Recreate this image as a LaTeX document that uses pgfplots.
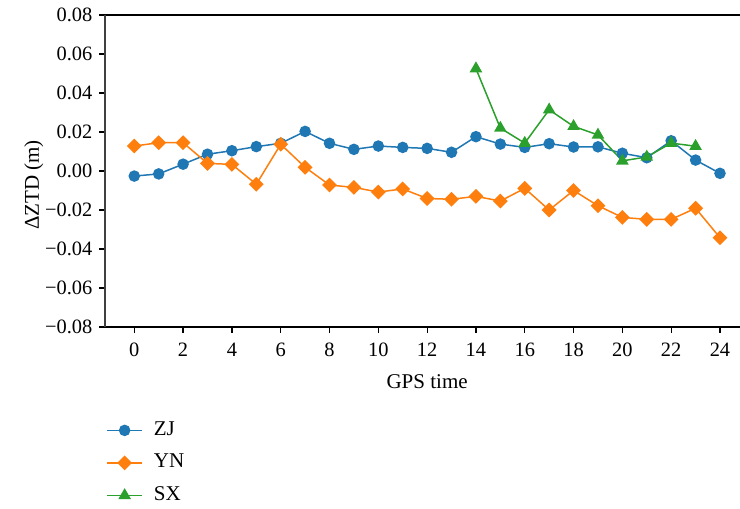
\documentclass[border=0pt]{standalone}
\usepackage{fontspec}
\setmainfont{Liberation Serif}
\usepackage{pgfplots}
\pgfplotsset{compat=1.18}
\definecolor{cZJ}{HTML}{1F77B4}
\definecolor{cYN}{HTML}{FF7F0E}
\definecolor{cSX}{HTML}{2CA02C}
\begin{document}
\begin{tikzpicture}
\begin{axis}[
  scale only axis, width=317.5pt, height=156pt,
  xmin=-1.2, xmax=24.82, ymin=-0.08, ymax=0.08,
  axis x line=box, axis y line=left, axis line style={-, line width=0.8pt},
  y axis line style={draw=black!75},
  xtick={0,2,4,6,8,10,12,14,16,18,20,22,24},
  xtick pos=left,
  ytick={-0.08,-0.06,-0.04,-0.02,0,0.02,0.04,0.06,0.08},
  yticklabels={−0.08,−0.06,−0.04,−0.02,0.00,0.02,0.04,0.06,0.08},
  scaled y ticks=false,
  tick align=outside, major tick length=2.8pt,
  tick style={black, line width=0.6pt},
  /pgf/number format/assume math mode=true,
  ticklabel style={font=\fontsize{10.2}{11}\selectfont},
  xticklabel style={yshift=-1.5pt},
  xlabel={GPS time}, ylabel={ΔZTD (m)},
  label style={font=\fontsize{10.5}{12}\selectfont},
  xlabel style={at={(axis cs:12,-0.08)}, anchor=center, yshift=-27.5pt},
  ylabel style={at={(axis description cs:-0.112,0.455)}, anchor=center},
  legend style={draw=none, fill=none, at={(0,0)}, anchor=north west,
    xshift=0.5pt, yshift=-47pt, inner sep=0pt, row sep=7.25pt,
    font=\fontsize{10.5}{12}\selectfont,
    nodes={inner sep=0pt, text height=7pt, text depth=2pt}},
  legend cell align=left,
  /tikz/every odd column/.append style={column sep=5.5pt},
  legend image code/.code={\draw[mark repeat=2,mark phase=2] plot coordinates {(0pt,0pt) (8.75pt,0pt) (17.5pt,0pt)};},
  every axis plot/.append style={line width=0.75pt},
]
\addplot[color=cZJ, mark=*, mark size=2.5pt, mark options={solid, fill=cZJ, draw=cZJ}] coordinates {
(0,-0.0026) (1,-0.0015) (2,0.0035) (3,0.0086) (4,0.0104) (5,0.0125) (6,0.0142) (7,0.0203) (8,0.0142) (9,0.0111) (10,0.0128) (11,0.0121) (12,0.0116) (13,0.0096) (14,0.0176) (15,0.0138) (16,0.0121) (17,0.0140) (18,0.0123) (19,0.0124) (20,0.0091) (21,0.0068) (22,0.0155) (23,0.0056) (24,-0.0012)};
\addlegendentry{ZJ}
\addplot[color=cYN, mark=square*, mark size=2.25pt, mark options={solid, rotate=45, fill=cYN, draw=cYN}] coordinates {
(0,0.0128) (1,0.0145) (2,0.0145) (3,0.0039) (4,0.0034) (5,-0.0068) (6,0.0137) (7,0.0019) (8,-0.0072) (9,-0.0084) (10,-0.0108) (11,-0.0092) (12,-0.0141) (13,-0.0145) (14,-0.0130) (15,-0.0154) (16,-0.0089) (17,-0.0200) (18,-0.0100) (19,-0.0178) (20,-0.0238) (21,-0.0248) (22,-0.0248) (23,-0.0191) (24,-0.0342)};
\addlegendentry{YN}
\addplot[color=cSX, mark=triangle*, mark size=2.9pt, mark options={solid, fill=cSX, draw=cSX}] coordinates {
(14,0.0525) (15,0.0220) (16,0.0143) (17,0.0314) (18,0.0229) (19,0.0185) (20,0.0052) (21,0.0072) (22,0.0143) (23,0.0127)};
\addlegendentry{SX}
\end{axis}
\pgfresetboundingbox
\useasboundingbox (-52.5pt,-91pt) rectangle (317.5pt,163.5pt);
\end{tikzpicture}
\end{document}
